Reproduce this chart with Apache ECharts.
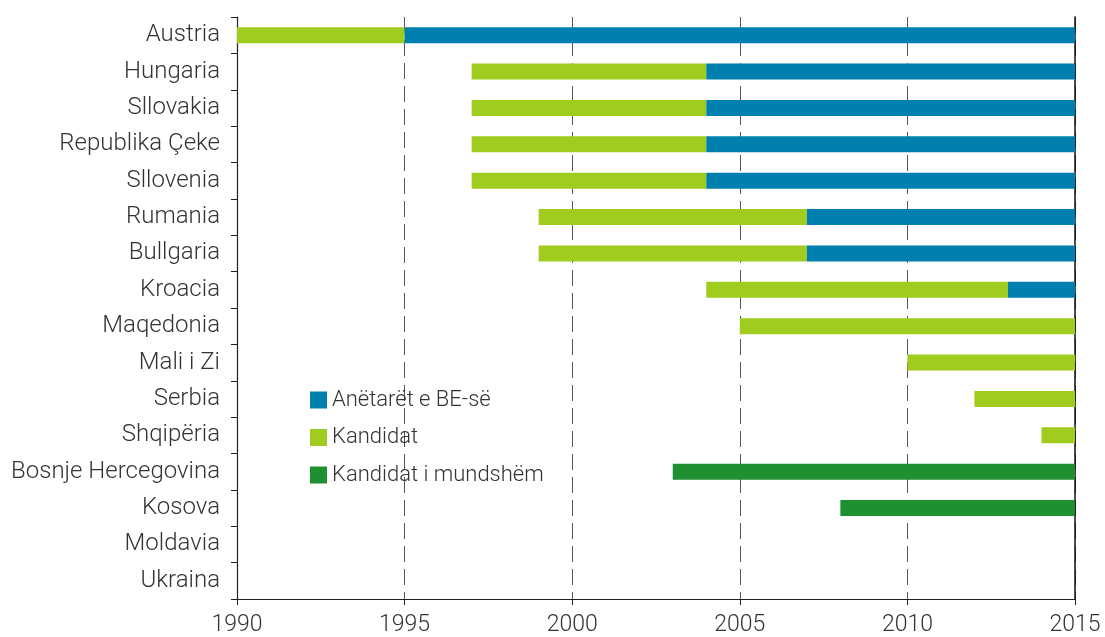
<!DOCTYPE html>
<html><head><meta charset="utf-8">
<script src="https://cdn.jsdelivr.net/npm/echarts@6/dist/echarts.min.js"></script>
<style>html,body{margin:0;padding:0;background:#fff}#c{width:1105px;height:637px}</style>
</head><body><div id="c"></div>
<script>
const categories = ["Austria","Hungaria","Sllovakia","Republika Çeke","Sllovenia","Rumania","Bullgaria","Kroacia","Maqedonia","Mali i Zi","Serbia","Shqipëria","Bosnje Hercegovina","Kosova","Moldavia","Ukraina"];
// candidate status start / end (end = EU membership start); null = none
const candidateStart = [1990,1997,1997,1997,1997,1999,1999,2004,2005,2010,2012,2014,null,null,null,null];
const memberStart    = [1995,2004,2004,2004,2004,2007,2007,2013,null,null,null,null,null,null,null,null];
const potentialStart = [null,null,null,null,null,null,null,null,null,null,null,null,2003,2008,null,null];
const endYear = 2015;
const xTicks = [1990,1995,2000,2005,2010,2015];

const font = 'Roboto';
const base = categories.map((c,i)=> candidateStart[i]!=null ? candidateStart[i] : (potentialStart[i]!=null ? potentialStart[i] : 0));
const candLen = categories.map((c,i)=> candidateStart[i]==null ? 0 : ((memberStart[i]!=null?memberStart[i]:endYear) - candidateStart[i]));
const memLen = categories.map((c,i)=> memberStart[i]==null ? 0 : endYear - memberStart[i]);
const potLen = categories.map((c,i)=> potentialStart[i]==null ? 0 : endYear - potentialStart[i]);

const chart = echarts.init(document.getElementById('c'), null, {renderer:'canvas'});
chart.setOption({
  animation:false,
  textStyle:{fontFamily:font},
  grid:{left:237,right:30,top:17,bottom:38,containLabel:false},
  legend:{
    data:["Anëtarët e BE-së","Kandidat","Kandidat i mundshëm"],
    orient:'vertical', left:305, top:384, itemWidth:17, itemHeight:17, itemGap:15.5,
    icon:'rect',
    textStyle:{fontFamily:font,fontSize:22,fontWeight:300,color:'#333',padding:[0,0,0,0]}
  },
  xAxis:{
    type:'value', min:xTicks[0], max:xTicks[xTicks.length-1], interval:5,
    axisLine:{show:true,lineStyle:{color:'#222',width:1.2}},
    axisTick:{show:true,length:6,lineStyle:{color:'#222'}},
    axisLabel:{fontFamily:font,fontSize:23,fontWeight:300,color:'#333',margin:15,formatter:v=>String(v)},
    splitLine:{show:true,lineStyle:{color:'#555',type:[16,7],width:1}}
  },
  yAxis:[{
    type:'category', data:categories, inverse:true,
    axisLine:{show:true,lineStyle:{color:'#222',width:1.2}},
    axisTick:{show:true,length:6,lineStyle:{color:'#222'}},
    axisLabel:{fontFamily:font,fontSize:24,fontWeight:300,color:'#333',margin:17,padding:[4,0,0,0]}
  },{
    type:'category', data:categories, inverse:true, position:'right',
    axisLine:{show:true,lineStyle:{color:'#111',width:1.5}},
    axisTick:{show:false}, axisLabel:{show:false}, splitLine:{show:false}
  }],
  series:[
    {name:'base',type:'bar',stack:'s',data:base,itemStyle:{color:'rgba(0,0,0,0)'},barWidth:16,silent:true},
    {name:'Kandidat',type:'bar',stack:'s',data:candLen,itemStyle:{color:'#9FCC1E'},barWidth:16},
    {name:'Anëtarët e BE-së',type:'bar',stack:'s',data:memLen,itemStyle:{color:'#0080AE'},barWidth:16},
    {name:'Kandidat i mundshëm',type:'bar',stack:'s',data:potLen,itemStyle:{color:'#1E9032'},barWidth:16}
  ]
});
</script></body></html>
